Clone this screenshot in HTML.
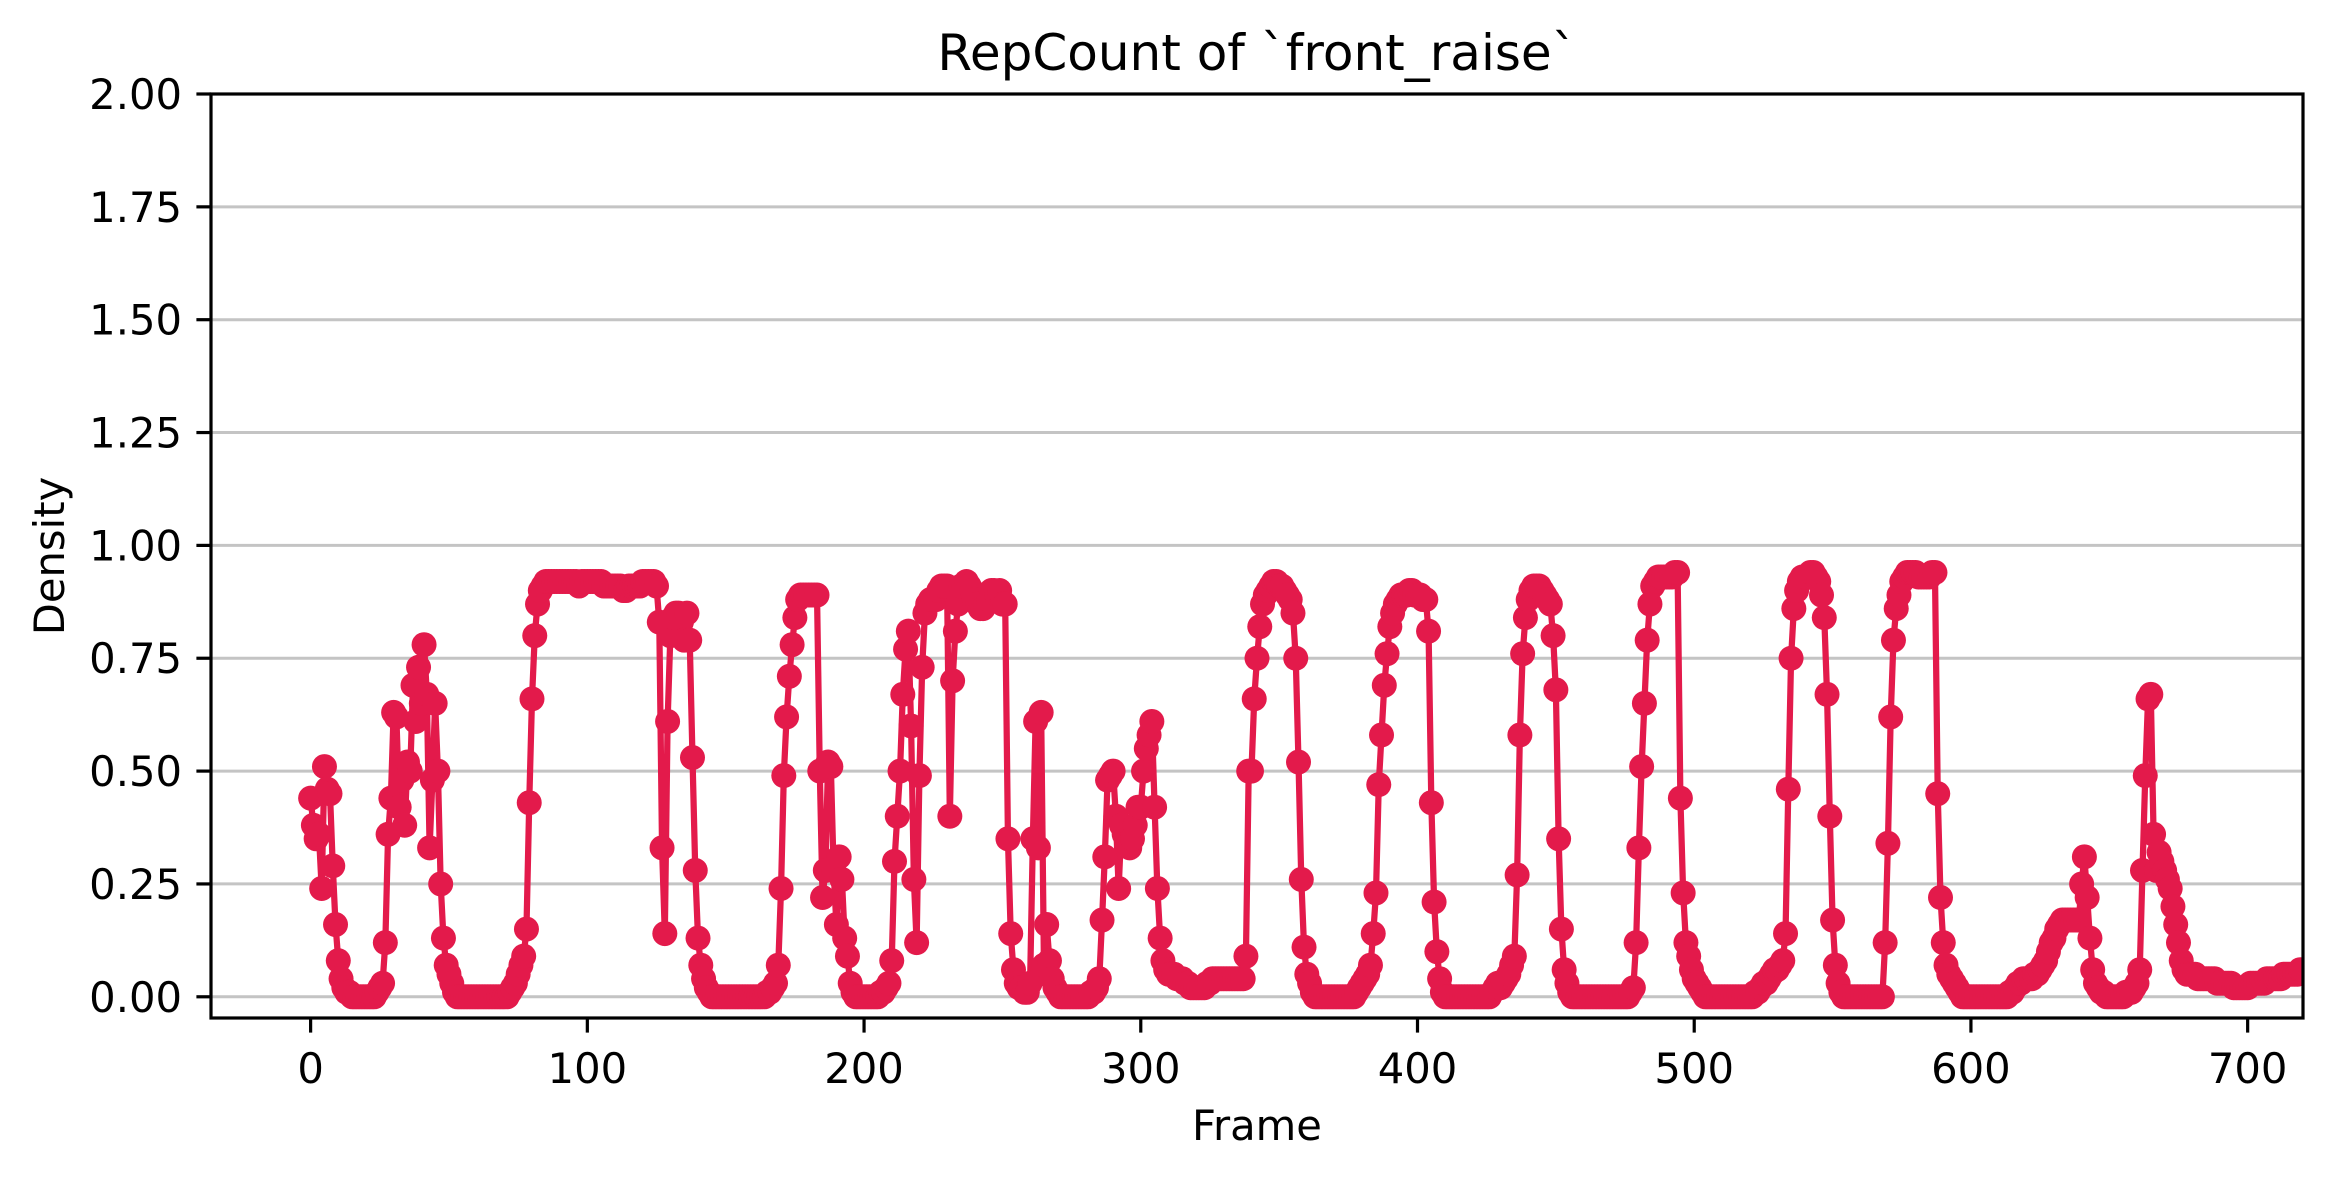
<!DOCTYPE html>
<html><head><meta charset="utf-8"><style>
html,body{margin:0;padding:0;background:#fff;}
svg{display:block;font-family:"DejaVu Sans","Liberation Sans",sans-serif;}
</style></head><body>
<svg id="chart" width="2333" height="1178" viewBox="0 0 2333 1178" xmlns="http://www.w3.org/2000/svg">
<rect x="0" y="0" width="2333" height="1178" fill="#fff"/>
<defs><clipPath id="plotclip"><rect x="211" y="94" width="2092" height="924"/></clipPath></defs>
<g id="grid"></g>
<g id="series" clip-path="url(#plotclip)"></g>
<rect x="211" y="94" width="2092" height="924" fill="none" stroke="#000" stroke-width="3.2"/>
<g id="xticks"></g>
<g id="yticks"></g>
<text x="1257" y="70" text-anchor="middle" font-size="50" fill="#000">RepCount of `front_raise`</text>
<text x="1257" y="1140" text-anchor="middle" font-size="41.7" fill="#000">Frame</text>
<text x="0" y="0" transform="translate(64,556) rotate(-90)" text-anchor="middle" font-size="41.7" fill="#000">Density</text>
</svg>
<script>
const values = [
0.44,0.38,0.35,0.36,0.24,0.51,0.46,0.45,0.29,0.16,
0.08,0.04,0.02,0.01,0.01,0.0,0.0,0.0,0.0,0.0,
0.0,0.0,0.0,0.0,0.01,0.02,0.03,0.12,0.36,0.44,
0.63,0.62,0.42,0.48,0.38,0.52,0.50,0.69,0.61,0.73,
0.65,0.78,0.67,0.33,0.48,0.65,0.50,0.25,0.13,0.07,
0.05,0.03,0.01,0.0,0.0,0.0,0.0,0.0,0.0,0.0,
0.0,0.0,0.0,0.0,0.0,0.0,0.0,0.0,0.0,0.0,
0.0,0.0,0.01,0.02,0.03,0.05,0.07,0.09,0.15,0.43,
0.66,0.80,0.87,0.90,0.91,0.92,0.92,0.92,0.92,0.92,
0.92,0.92,0.92,0.92,0.92,0.92,0.92,0.91,0.92,0.92,
0.92,0.92,0.92,0.92,0.92,0.92,0.91,0.91,0.91,0.91,
0.91,0.91,0.91,0.90,0.90,0.91,0.91,0.91,0.91,0.91,
0.92,0.92,0.92,0.92,0.92,0.91,0.83,0.33,0.14,0.61,
0.80,0.84,0.85,0.85,0.83,0.79,0.85,0.79,0.53,0.28,
0.13,0.07,0.04,0.02,0.01,0.0,0.0,0.0,0.0,0.0,
0.0,0.0,0.0,0.0,0.0,0.0,0.0,0.0,0.0,0.0,
0.0,0.0,0.0,0.0,0.0,0.01,0.01,0.02,0.03,0.07,
0.24,0.49,0.62,0.71,0.78,0.84,0.88,0.89,0.89,0.89,
0.89,0.89,0.89,0.89,0.50,0.22,0.28,0.52,0.51,0.28,
0.16,0.31,0.26,0.13,0.09,0.03,0.01,0.0,0.0,0.0,
0.0,0.0,0.0,0.0,0.0,0.0,0.01,0.01,0.02,0.03,
0.08,0.30,0.40,0.50,0.67,0.77,0.81,0.60,0.26,0.12,
0.49,0.73,0.85,0.87,0.88,0.88,0.88,0.90,0.91,0.91,
0.91,0.40,0.70,0.81,0.87,0.91,0.91,0.92,0.91,0.90,
0.88,0.87,0.86,0.86,0.87,0.88,0.90,0.90,0.89,0.90,
0.87,0.87,0.35,0.14,0.06,0.03,0.02,0.02,0.01,0.01,
0.03,0.35,0.61,0.33,0.63,0.07,0.16,0.08,0.04,0.02,
0.01,0.0,0.0,0.0,0.0,0.0,0.0,0.0,0.0,0.0,
0.0,0.0,0.01,0.01,0.02,0.04,0.17,0.31,0.48,0.49,
0.50,0.40,0.24,0.38,0.36,0.34,0.33,0.35,0.38,0.42,
0.42,0.50,0.55,0.58,0.61,0.42,0.24,0.13,0.08,0.06,
0.05,0.05,0.05,0.04,0.04,0.04,0.03,0.03,0.02,0.02,
0.02,0.02,0.02,0.02,0.03,0.03,0.04,0.04,0.04,0.04,
0.04,0.04,0.04,0.04,0.04,0.04,0.04,0.04,0.09,0.50,
0.50,0.66,0.75,0.82,0.87,0.89,0.90,0.91,0.92,0.92,
0.91,0.91,0.90,0.89,0.88,0.85,0.75,0.52,0.26,0.11,
0.05,0.03,0.01,0.0,0.0,0.0,0.0,0.0,0.0,0.0,
0.0,0.0,0.0,0.0,0.0,0.0,0.0,0.0,0.01,0.02,
0.03,0.04,0.05,0.07,0.14,0.23,0.47,0.58,0.69,0.76,
0.82,0.85,0.87,0.88,0.89,0.89,0.89,0.90,0.90,0.89,
0.89,0.89,0.88,0.88,0.81,0.43,0.21,0.10,0.04,0.01,
0.0,0.0,0.0,0.0,0.0,0.0,0.0,0.0,0.0,0.0,
0.0,0.0,0.0,0.0,0.0,0.0,0.0,0.01,0.02,0.03,
0.02,0.03,0.04,0.05,0.07,0.09,0.27,0.58,0.76,0.84,
0.88,0.90,0.91,0.91,0.91,0.90,0.89,0.88,0.87,0.80,
0.68,0.35,0.15,0.06,0.03,0.01,0.0,0.0,0.0,0.0,
0.0,0.0,0.0,0.0,0.0,0.0,0.0,0.0,0.0,0.0,
0.0,0.0,0.0,0.0,0.0,0.0,0.0,0.01,0.02,0.12,
0.33,0.51,0.65,0.79,0.87,0.91,0.92,0.93,0.93,0.93,
0.93,0.93,0.93,0.94,0.94,0.44,0.23,0.12,0.09,0.06,
0.04,0.03,0.02,0.01,0.0,0.0,0.0,0.0,0.0,0.0,
0.0,0.0,0.0,0.0,0.0,0.0,0.0,0.0,0.0,0.0,
0.0,0.0,0.01,0.01,0.02,0.03,0.03,0.04,0.05,0.06,
0.06,0.07,0.08,0.14,0.46,0.75,0.86,0.90,0.92,0.93,
0.93,0.93,0.94,0.94,0.93,0.92,0.89,0.84,0.67,0.40,
0.17,0.07,0.03,0.01,0.0,0.0,0.0,0.0,0.0,0.0,
0.0,0.0,0.0,0.0,0.0,0.0,0.0,0.0,0.0,0.12,
0.34,0.62,0.79,0.86,0.89,0.92,0.93,0.94,0.94,0.94,
0.94,0.93,0.93,0.93,0.93,0.93,0.94,0.94,0.45,0.22,
0.12,0.07,0.05,0.04,0.03,0.02,0.01,0.0,0.0,0.0,
0.0,0.0,0.0,0.0,0.0,0.0,0.0,0.0,0.0,0.0,
0.0,0.0,0.0,0.0,0.01,0.01,0.02,0.03,0.03,0.04,
0.04,0.04,0.04,0.05,0.05,0.06,0.07,0.08,0.10,0.12,
0.13,0.15,0.16,0.17,0.17,0.17,0.17,0.17,0.17,0.17,
0.25,0.31,0.22,0.13,0.06,0.03,0.02,0.01,0.01,0.0,
0.0,0.0,0.0,0.0,0.0,0.0,0.01,0.01,0.01,0.02,
0.03,0.06,0.28,0.49,0.66,0.67,0.36,0.28,0.32,0.30,
0.28,0.26,0.24,0.20,0.16,0.12,0.08,0.06,0.05,0.05,
0.05,0.05,0.04,0.04,0.04,0.04,0.04,0.04,0.04,0.03,
0.03,0.03,0.03,0.03,0.03,0.02,0.02,0.02,0.02,0.02,
0.02,0.03,0.03,0.03,0.03,0.03,0.03,0.04,0.04,0.04,
0.04,0.04,0.04,0.05,0.05,0.05,0.05,0.05,0.05,0.06,
0.06
];
const xTicks = [0,100,200,300,400,500,600,700];
const yTicks = [0,0.25,0.5,0.75,1.0,1.25,1.5,1.75,2.0];
const yTickLabels = ["0.00","0.25","0.50","0.75","1.00","1.25","1.50","1.75","2.00"];

const NS = "http://www.w3.org/2000/svg";
const L=211,R=2303,T=94,B=1018;
const XMIN=-36,XMAX=720,YMIN=-0.047,YMAX=2.0;
function sx(v){return L+(v-XMIN)/(XMAX-XMIN)*(R-L);}
function sy(v){return B-(v-YMIN)/(YMAX-YMIN)*(B-T);}
function mk(tag,attrs,parent){const e=document.createElementNS(NS,tag);for(const k in attrs)e.setAttribute(k,attrs[k]);parent.appendChild(e);return e;}

const grid=document.getElementById('grid');
const yt=document.getElementById('yticks');
yTicks.forEach((v,i)=>{
  const y=sy(v);
  const g=mk('line',{x1:L,x2:R,y1:y,y2:y,stroke:'#c4c4c4','stroke-width':3},grid);
  
  
  const t=mk('line',{x1:L-14.6,x2:L,y1:y,y2:y,stroke:'#000','stroke-width':3.2},yt);
  
  
  const lb=mk('text',{x:L-29,y:y+15,'text-anchor':'end','font-size':41.7,fill:'#000'},yt);
  lb.textContent=yTickLabels[i];
  
  
});
const xt=document.getElementById('xticks');
xTicks.forEach(v=>{
  const x=sx(v);
  const t=mk('line',{x1:x,x2:x,y1:B,y2:B+14.6,stroke:'#000','stroke-width':3.2},xt);
  
  
  const lb=mk('text',{x:x,y:1083,'text-anchor':'middle','font-size':41.7,fill:'#000'},xt);
  lb.textContent=String(v);
  
  
});

const ser=document.getElementById('series');
const color='#e31a4b';
let d='';
values.forEach((v,i)=>{d+=(i?'L':'M')+sx(i).toFixed(2)+' '+sy(v).toFixed(2);});
const line=mk('path',{d:d,fill:'none',stroke:color,'stroke-width':6.25,'stroke-linejoin':'round'},ser);


values.forEach((v,i)=>{
  const c=mk('circle',{cx:sx(i).toFixed(2),cy:sy(v).toFixed(2),r:12.5,fill:color},ser);
  
  
});
</script>
</body></html>
